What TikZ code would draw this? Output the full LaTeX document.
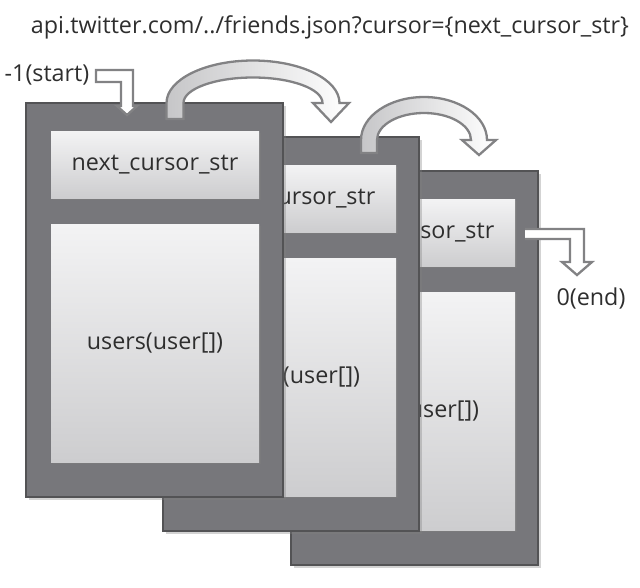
\documentclass[tikz,border=0pt]{standalone}
\usepackage{fontspec}
\setmainfont{Open Sans}
\usetikzlibrary{shadows}
\definecolor{framefill}{HTML}{77777B}
\definecolor{frameline}{HTML}{535355}
\definecolor{boxtop}{HTML}{F3F3F4}
\definecolor{boxbot}{HTML}{CDCDCF}
\definecolor{txt}{HTML}{2E2E2E}
\definecolor{arrline}{HTML}{828284}
\definecolor{arrgray}{HTML}{C6C6C8}
\tikzset{
  frame/.style={draw=frameline, fill=framefill, line width=2.5pt, inner sep=0pt, outer sep=0pt,
    drop shadow={shadow xshift=2.5pt, shadow yshift=-2.5pt, opacity=0.35}},
  cbox/.style={top color=boxtop, bottom color=boxbot, draw=none, inner sep=0pt, outer sep=0pt,
    minimum width=208pt, text=txt, font=\fontsize{23.3}{26}\selectfont,
    drop shadow={shadow xshift=1.5pt, shadow yshift=-1.5pt, opacity=0.35}},
  lbl/.style={text=txt, font=\fontsize{23.3}{26}\selectfont, inner sep=0pt},
  blockarrow/.style={draw=arrline, line width=2.3pt, line join=miter},
}
\begin{document}
\begin{tikzpicture}[x=1pt, y=-1pt]
\useasboundingbox (0,0) rectangle (640,587);
% title
\node[lbl] (title) at (330,27) {api.twitter.com/../friends.json?cursor=\{next\_cursor\_str\}};
% frame 3 (back)
\node[frame, minimum width=247pt, minimum height=394pt] (f3) at (414.5,368) {};
\node[cbox, minimum height=67pt] (h3) at (411,232.5) {next\_cursor\_str};
\node[cbox, minimum height=238pt] (u3) at (411,411) {users(user[])};
% frame 2
\node[frame, minimum width=256pt, minimum height=394pt] (f2) at (291,334) {};
\node[cbox, minimum height=67pt] (h2) at (292,198.5) {next\_cursor\_str};
\node[cbox, minimum height=238pt] (u2) at (292,377) {users(user[])};
% arc 2 (frame 2 -> frame 3)
\path[blockarrow, left color=arrgray, right color=white]
  (361,153) -- (361,140) arc[start angle=180, end angle=0, x radius=63pt, y radius=43pt]
  -- (496,140) -- (479,155) -- (462,140) -- (471,140)
  arc[start angle=0, end angle=180, x radius=47pt, y radius=27pt] -- (377,153) -- cycle;
% frame 1 (front)
\node[frame, minimum width=257pt, minimum height=394pt] (f1) at (154.5,300) {};
\node[cbox, minimum height=67pt] (h1) at (155,164.5) {next\_cursor\_str};
\node[cbox, minimum height=238pt] (u1) at (155,343) {users(user[])};
% arc 1 (frame 1 -> frame 2)
\path[blockarrow, left color=arrgray, right color=white]
  (166.5,119) -- (166.5,103) arc[start angle=180, end angle=0, x radius=86.5pt, y radius=42.5pt]
  -- (349,103) -- (331,122) -- (313,103) -- (322.5,103)
  arc[start angle=0, end angle=180, x radius=69.5pt, y radius=25.5pt] -- (183.5,119) -- cycle;
% start
\node[lbl] (start) at (47,75) {-1(start)};
\path[blockarrow, fill=white]
  (96,70) -- (133,70) -- (133,106) -- (137,106) -- (127,115) -- (117,106) -- (121,106)
  -- (121,82) -- (96,82) -- cycle;
% end
\node[lbl] (end) at (591,298) {0(end)};
\fill[white] (525,229) -- (584,229) -- (584,262) -- (592,262) -- (577,275) -- (562,262)
  -- (570,262) -- (570,239) -- (525,239) -- cycle;
\draw[blockarrow] (525,229) -- (584,229) -- (584,262) -- (592,262) -- (577,275) -- (562,262)
  -- (570,262) -- (570,239) -- (525,239);
\end{tikzpicture}
\end{document}
